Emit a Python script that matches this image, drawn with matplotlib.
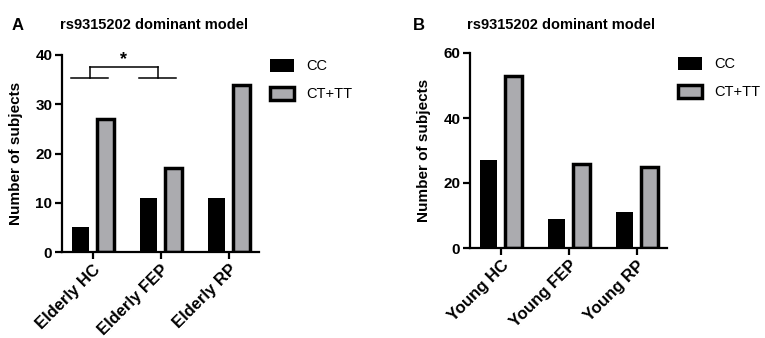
import numpy as np
import matplotlib
matplotlib.use("Agg")
import matplotlib.pyplot as plt

plt.rcParams['font.family'] = ['Liberation Sans', 'DejaVu Sans']

# data
groups_a = ["Elderly HC", "Elderly FEP", "Elderly RP"]
cc_a = [5, 11, 11]
cttt_a = [27, 17, 34]

groups_b = ["Young HC", "Young FEP", "Young RP"]
cc_b = [27, 9, 11]
cttt_b = [53, 26, 25]

title = "rs9315202 dominant model"
series_names = ["CC", "CT+TT"]

W, H = 765, 338
fig = plt.figure(figsize=(W / 100, H / 100), dpi=100)

def px(x, y):
    return x / W, 1 - y / H

def draw_panel(rect, groups, cc, cttt, ymax, yticks, letter, lx, tx, legend_xy):
    ax = fig.add_axes(rect)
    x = np.arange(len(groups))
    off = 0.185
    bw = 0.245
    ax.bar(x - off, cc, bw, color='black', edgecolor='black', linewidth=0, label=series_names[0])
    ax.bar(x + off, cttt, bw, color='#ababaf', edgecolor='black', linewidth=2.5, label=series_names[1])
    ax.set_xlim(-0.456, 2.44)
    ax.set_ylim(0, ymax)
    ax.set_yticks(yticks)
    ax.set_xticks(x)
    ax.set_xticklabels(groups, rotation=45, ha='right', rotation_mode='anchor',
                       fontsize=12, fontweight='bold')
    for lab in ax.get_yticklabels():
        lab.set_fontweight('bold')
        lab.set_fontsize(11)
    ax.spines['top'].set_visible(False)
    ax.spines['right'].set_visible(False)
    for s in ['left', 'bottom']:
        ax.spines[s].set_linewidth(1.6)
    ax.tick_params(axis='both', width=1.6, length=5, pad=2, colors='black')
    ax.set_ylabel("Number of subjects", fontsize=11, fontweight='bold', labelpad=9)
    fig.text(*px(lx, 25), letter, fontsize=12, fontweight='bold', va='center', ha='left')
    fig.text(*px(tx, 25), title, fontsize=10.5, fontweight='bold', va='center', ha='left')
    ax.legend(loc='upper left', bbox_to_anchor=px(*legend_xy), bbox_transform=fig.transFigure,
              frameon=False, fontsize=10.5, handlelength=1.65, handleheight=0.95,
              handletextpad=0.85, labelspacing=0.95, borderpad=0, borderaxespad=0)
    return ax

ax_a = draw_panel([62 / W, 1 - 252 / H, 197 / W, 197 / H], groups_a, cc_a, cttt_a,
                  40, [0, 10, 20, 30, 40], "A", 12, 60, (270, 59))
ax_b = draw_panel([470 / W, 1 - 248 / H, 197 / W, 195 / H], groups_b, cc_b, cttt_b,
                  60, [0, 20, 40, 60], "B", 413, 467, (678, 57))

# significance bracket between Elderly HC and Elderly FEP
for g in [0, 1]:
    ax_a.plot([g - 0.32, g + 0.22], [35.3, 35.3], color='black', lw=1.1, clip_on=False)
    ax_a.plot([g - 0.05, g - 0.05], [35.3, 37.5], color='black', lw=1.1, clip_on=False)
ax_a.plot([-0.05, 0.95], [37.5, 37.5], color='black', lw=1.1, clip_on=False)
ax_a.text(0.45, 37.3, "*", ha='center', va='bottom', fontsize=13, fontweight='bold')

fig.savefig("out.png", dpi=100)
